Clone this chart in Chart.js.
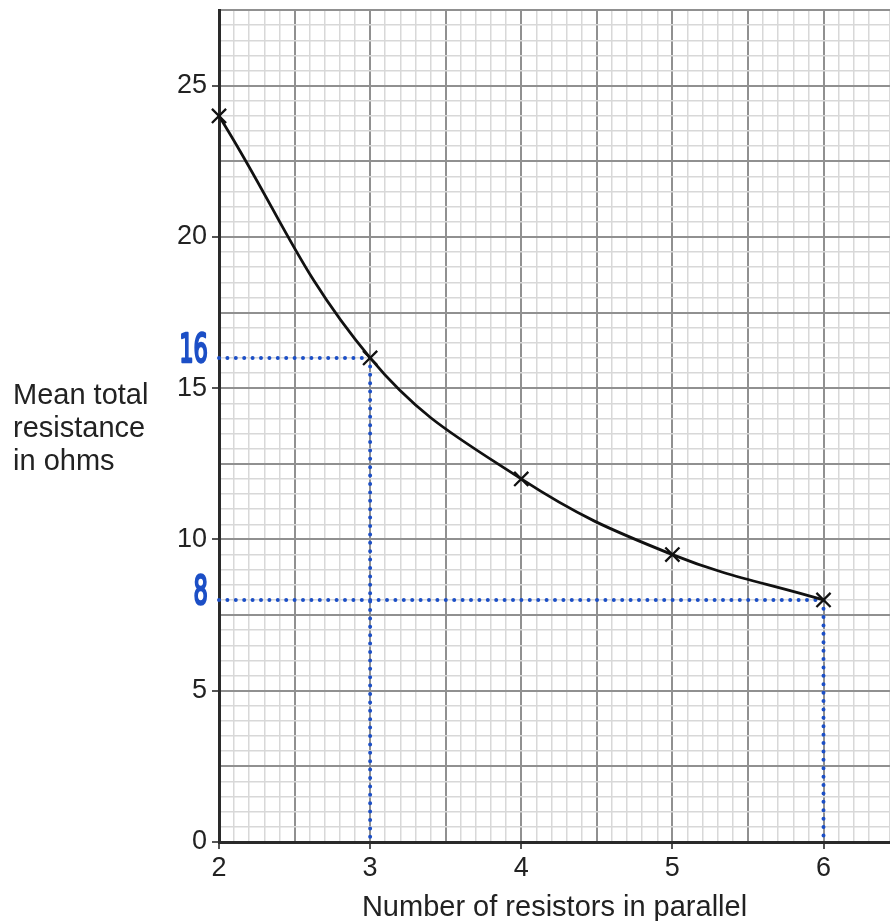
<!DOCTYPE html>
<html>
<head>
<meta charset="utf-8">
<script src="https://cdn.jsdelivr.net/npm/chart.js@4.4.1/dist/chart.umd.min.js"></script>
<style>
  html, body { margin: 0; padding: 0; background: #fff; overflow: hidden; }
  #wrap { width: 890px; height: 921px; position: relative; }
</style>
</head>
<body>
<div id="wrap"><canvas id="graphics"></canvas></div>
<script>
// measured points
const resistors = [2, 3, 4, 5, 6];
const resistance = [24, 16, 12, 9.5, 8];

// blue read-off lines (drawn by hand on the sheet)
const readA = [{ x: 2, y: 16 }, { x: 3, y: 16 }, { x: 3, y: 0 }];
const readB = [{ x: 2, y: 8 }, { x: 6, y: 8 }, { x: 6, y: 0 }];
const readLabels = [{ text: '16', y: 16 }, { text: '8', y: 8 }];

const yTitle = ['Mean total', 'resistance', 'in ohms'];
const xTitle = 'Number of resistors in parallel';

const txt = '#222';
const blue = '#1c4fc6';
const font = { family: 'Liberation Sans, Arial, sans-serif', size: 27 };
const titleFont = { family: 'Liberation Sans, Arial, sans-serif', size: 29 };

const isDarkX = (v) => Math.round(v * 10) % 5 === 0;
const isDarkY = (v) => Math.round(v * 10) % 25 === 0;

const sidePlugin = {
    id: 'side',
    afterDraw(chart) {
        const c = chart.ctx;
        const y = chart.scales.y;
        c.save();
        c.fillStyle = txt;
        c.font = '29px Liberation Sans, Arial, sans-serif';
        c.textBaseline = 'middle';
        c.textAlign = 'left';
        yTitle.forEach((t, i) => c.fillText(t, 13, 396 + i * 33));
        // handwritten read-off values, squeezed to look hand drawn
        c.fillStyle = blue;
        c.strokeStyle = blue;
        c.lineWidth = 2.4;
        c.lineJoin = 'round';
        c.font = '39px DejaVu Sans, sans-serif';
        c.textAlign = 'right';
        c.textBaseline = 'alphabetic';
        readLabels.forEach(l => {
            c.save();
            c.translate(208, y.getPixelForValue(l.y) + 4);
            c.scale(0.58, 1);
            c.fillText(l.text, 0, 0);
            c.strokeText(l.text, 0, 0);
            c.restore();
        });
        c.restore();
    }
};

const pts = resistors.map((x, i) => ({ x: x, y: resistance[i] }));

new Chart(document.getElementById('graphics'), {
    type: 'line',
    data: {
        datasets: [{
            data: pts,
            borderColor: '#111',
            borderWidth: 2.8,
            tension: 0.4,
            pointStyle: 'crossRot',
            pointRadius: 10,
            pointBorderWidth: 2.3,
            pointBorderColor: '#111',
            clip: false,
            order: 0
        }, {
            data: readA,
            borderColor: blue,
            borderWidth: 4,
            borderDash: [0, 8.4],
            borderCapStyle: 'round',
            pointRadius: 0,
            tension: 0,
            clip: false,
            order: 1
        }, {
            data: readB,
            borderColor: blue,
            borderWidth: 4,
            borderDash: [0, 8.4],
            borderCapStyle: 'round',
            pointRadius: 0,
            tension: 0,
            clip: false,
            order: 1
        }]
    },
    options: {
        responsive: true,
        maintainAspectRatio: false,
        animation: false,
        layout: { autoPadding: false, padding: { top: 10, left: 0, right: 0, bottom: 0 } },
        plugins: { legend: { display: false }, tooltip: { enabled: false } },
        scales: {
            x: {
                type: 'linear',
                min: 2,
                max: 6.44,
                afterFit: (s) => { s.height = 79; s.paddingLeft = 0; s.paddingRight = 0; },
                border: { color: '#2a2a2a', width: 3 },
                grid: {
                    color: (ctx) => isDarkX(ctx.tick.value) ? '#909090' : '#d8d8d8',
                    lineWidth: (ctx) => isDarkX(ctx.tick.value) ? 2 : 1.5,
                    tickColor: (ctx) => Math.abs(ctx.tick.value - Math.round(ctx.tick.value)) < 1e-6 ? '#555' : 'rgba(0,0,0,0)',
                    tickLength: 7
                },
                ticks: {
                    stepSize: 0.1,
                    autoSkip: false,
                    maxRotation: 0,
                    padding: 3,
                    color: txt,
                    font: font,
                    callback: (v) => Math.abs(v - Math.round(v)) < 1e-6 ? String(Math.round(v)) : ''
                },
                title: { display: true, text: xTitle, color: txt, font: titleFont, padding: { top: 0, bottom: -4 } }
            },
            y: {
                min: 0,
                max: 27.5,
                afterFit: (s) => { s.width = 219; s.paddingTop = 0; s.paddingBottom = 0; },
                border: { color: '#2a2a2a', width: 3 },
                grid: {
                    color: (ctx) => isDarkY(ctx.tick.value) ? '#909090' : '#d8d8d8',
                    lineWidth: (ctx) => isDarkY(ctx.tick.value) ? 2 : 1.5,
                    tickColor: (ctx) => Math.round(ctx.tick.value * 10) % 50 === 0 ? '#555' : 'rgba(0,0,0,0)',
                    tickLength: 7
                },
                ticks: {
                    stepSize: 0.5,
                    autoSkip: false,
                    padding: 5,
                    color: txt,
                    font: font,
                    callback: (v) => Math.round(v * 10) % 50 === 0 ? String(Math.round(v)) : ''
                }
            }
        }
    },
    plugins: [sidePlugin]
});
</script>
</body>
</html>
